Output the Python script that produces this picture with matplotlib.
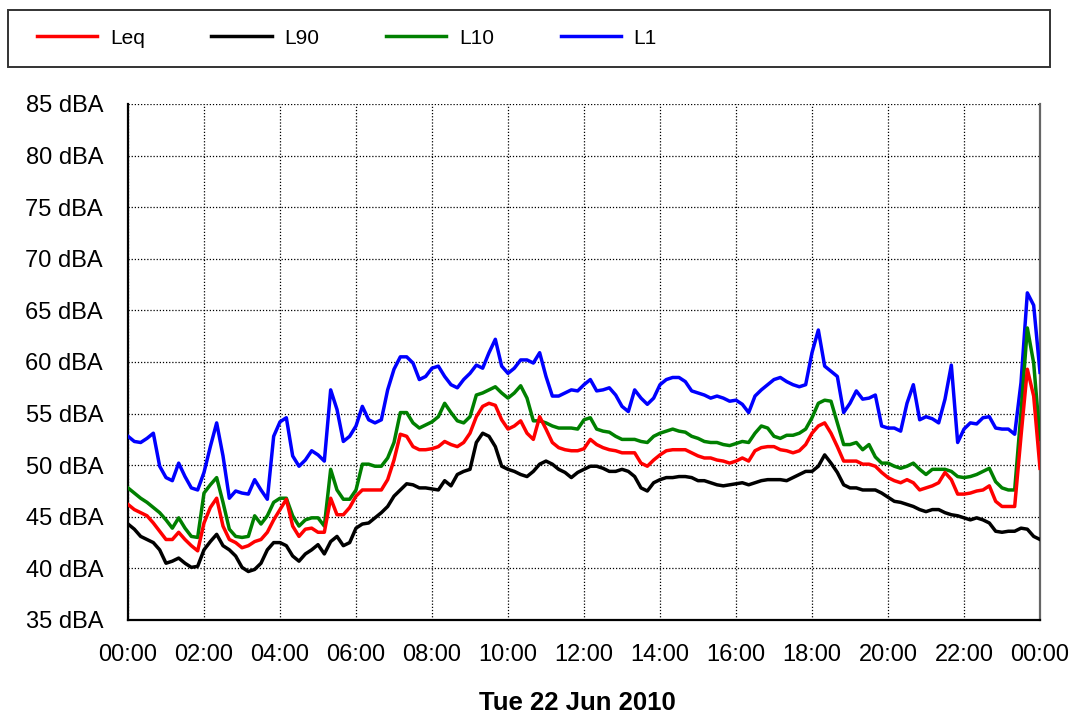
import numpy as np
import matplotlib
matplotlib.use("Agg")
import matplotlib.pyplot as plt
from matplotlib.patches import Rectangle

plt.rcParams['font.family'] = ['Liberation Sans', 'DejaVu Sans']

# 10-minute noise levels (dBA) for Tue 22 Jun 2010, 00:00 .. 24:00
step_minutes = 10

l1 = [52.8, 52.3, 52.2, 52.6, 53.1, 49.9, 48.8, 48.5, 50.2, 48.9, 47.8, 47.6, 49.3, 51.8, 54.1, 50.9, 46.8, 47.5, 47.3, 47.2, 48.6, 47.6, 46.7, 52.8, 54.2,
      54.6, 50.9, 49.9, 50.5, 51.4, 51.0, 50.4, 57.3, 55.4, 52.3, 52.8, 53.8, 55.7, 54.4, 54.1, 54.4, 57.3, 59.3, 60.5, 60.5, 59.9, 58.3, 58.6, 59.4,
      59.6, 58.6, 57.8, 57.5, 58.3, 58.9, 59.7, 59.4, 60.9, 62.2, 59.6, 58.9, 59.4, 60.2, 60.2, 59.9, 60.9, 58.6, 56.7, 56.7, 57.0, 57.3, 57.2, 57.8,
      58.3, 57.2, 57.3, 57.5, 56.8, 55.7, 55.2, 57.3, 56.5, 55.9, 56.5, 57.8, 58.3, 58.5, 58.5, 58.1, 57.2, 57.0, 56.8, 56.5, 56.7, 56.5, 56.2, 56.3,
      55.9, 55.1, 56.7, 57.3, 57.8, 58.3, 58.5, 58.1, 57.8, 57.6, 57.8, 60.9, 63.1, 59.6, 59.1, 58.6, 55.1, 56.0, 57.2, 56.4, 56.5, 56.8, 53.8, 53.6,
      53.6, 53.3, 56.0, 57.8, 54.4, 54.7, 54.5, 54.1, 56.4, 59.7, 52.2, 53.5, 54.1, 54.0, 54.6, 54.7, 53.6, 53.5, 53.5, 53.0, 58.0, 66.7, 65.5, 59.0]

l10 = [47.8, 47.3, 46.8, 46.4, 45.9, 45.4, 44.7, 43.9, 44.9, 43.9, 43.1, 43.0, 47.3, 48.1, 48.8, 46.4, 43.8, 43.1, 43.0, 43.1, 45.1, 44.3, 45.1, 46.4, 46.8,
       46.8, 45.1, 44.1, 44.7, 44.9, 44.9, 44.1, 49.6, 47.6, 46.7, 46.7, 47.6, 50.1, 50.1, 49.9, 49.9, 50.7, 52.2, 55.1, 55.1, 54.1, 53.6, 53.9, 54.2,
       54.7, 56.0, 55.1, 54.3, 54.1, 54.7, 56.8, 57.0, 57.3, 57.6, 57.0, 56.5, 57.0, 57.7, 56.5, 54.3, 54.3, 54.1, 53.8, 53.6, 53.6, 53.6, 53.5, 54.4,
       54.6, 53.5, 53.3, 53.2, 52.8, 52.5, 52.5, 52.5, 52.3, 52.2, 52.8, 53.1, 53.3, 53.5, 53.3, 53.2, 52.8, 52.6, 52.3, 52.2, 52.2, 52.0, 51.9, 52.1,
       52.3, 52.2, 53.1, 53.8, 53.6, 52.8, 52.6, 52.9, 52.9, 53.1, 53.5, 54.6, 56.0, 56.3, 56.2, 54.1, 52.0, 52.0, 52.2, 51.5, 52.0, 50.8, 50.2, 50.2,
       49.9, 49.7, 49.9, 50.2, 49.6, 49.1, 49.6, 49.6, 49.6, 49.4, 48.9, 48.8, 48.9, 49.1, 49.4, 49.7, 48.4, 47.8, 47.6, 47.6, 55.1, 63.3, 59.9, 52.5]

leq = [46.2, 45.7, 45.4, 45.1, 44.4, 43.6, 42.8, 42.8, 43.5, 42.8, 42.2, 41.7, 44.4, 45.9, 46.8, 44.1, 42.8, 42.5, 42.0, 42.2, 42.6, 42.8, 43.5, 44.7, 45.7,
       46.7, 44.1, 43.1, 43.8, 43.9, 43.5, 43.5, 46.8, 45.2, 45.2, 45.9, 47.0, 47.6, 47.6, 47.6, 47.6, 48.6, 50.5, 53.0, 52.8, 51.8, 51.5, 51.5, 51.6,
       51.8, 52.3, 52.0, 51.8, 52.2, 53.1, 54.7, 55.7, 56.0, 55.8, 54.4, 53.5, 53.8, 54.3, 53.1, 52.5, 54.7, 53.5, 52.2, 51.7, 51.5, 51.4, 51.4, 51.6,
       52.5, 52.0, 51.7, 51.5, 51.4, 51.2, 51.2, 51.2, 50.2, 49.9, 50.5, 51.0, 51.4, 51.5, 51.5, 51.5, 51.2, 50.9, 50.7, 50.7, 50.5, 50.4, 50.2, 50.4,
       50.7, 50.4, 51.4, 51.7, 51.8, 51.8, 51.5, 51.4, 51.2, 51.4, 52.0, 53.1, 53.8, 54.1, 53.1, 51.8, 50.4, 50.4, 50.4, 50.1, 50.1, 49.9, 49.3, 48.8,
       48.5, 48.3, 48.6, 48.3, 47.6, 47.8, 48.0, 48.3, 49.3, 48.6, 47.2, 47.2, 47.3, 47.5, 47.6, 48.0, 46.5, 46.0, 46.0, 46.0, 52.8, 59.3, 56.7, 49.7]

l90 = [44.3, 43.8, 43.1, 42.8, 42.5, 41.8, 40.5, 40.7, 41.0, 40.5, 40.1, 40.2, 41.8, 42.6, 43.3, 42.2, 41.8, 41.2, 40.1, 39.7, 39.9, 40.5, 41.8, 42.5, 42.5,
       42.2, 41.2, 40.7, 41.4, 41.8, 42.3, 41.4, 42.6, 43.1, 42.2, 42.5, 43.9, 44.3, 44.4, 44.9, 45.4, 46.0, 47.0, 47.6, 48.2, 48.1, 47.8, 47.8, 47.7,
       47.6, 48.5, 48.0, 49.1, 49.4, 49.6, 52.2, 53.1, 52.8, 51.8, 49.9, 49.6, 49.4, 49.1, 48.9, 49.4, 50.1, 50.4, 50.1, 49.6, 49.3, 48.8, 49.3, 49.6,
       49.9, 49.9, 49.7, 49.4, 49.4, 49.6, 49.4, 48.9, 47.8, 47.5, 48.3, 48.6, 48.8, 48.8, 48.9, 48.9, 48.8, 48.5, 48.5, 48.3, 48.1, 48.0, 48.1, 48.2,
       48.3, 48.1, 48.3, 48.5, 48.6, 48.6, 48.6, 48.5, 48.8, 49.1, 49.4, 49.4, 49.9, 51.0, 50.2, 49.3, 48.1, 47.8, 47.8, 47.6, 47.6, 47.6, 47.3, 46.9,
       46.5, 46.4, 46.2, 46.0, 45.7, 45.5, 45.7, 45.7, 45.4, 45.2, 45.1, 44.9, 44.7, 44.9, 44.7, 44.4, 43.6, 43.5, 43.6, 43.6, 43.9, 43.8, 43.1, 42.8]

x_ticks = list(range(0, 25, 2))
x_tick_labels = ["00:00", "02:00", "04:00", "06:00", "08:00", "10:00", "12:00",
                 "14:00", "16:00", "18:00", "20:00", "22:00", "00:00"]
y_ticks = [35, 40, 45, 50, 55, 60, 65, 70, 75, 80, 85]
y_tick_labels = [f"{v} dBA" for v in y_ticks]
date_label = "Tue 22 Jun 2010"

hours = np.arange(len(leq)) * step_minutes / 60.0

W, H = 1077, 718
fig = plt.figure(figsize=(W / 100, H / 100), dpi=100)
ax = fig.add_axes([128 / W, 1 - 620 / H, (1040 - 128) / W, (620 - 104) / H])

lw = 2.5
h_l1, = ax.plot(hours, l1, color="#0000ff", lw=lw, label="L1", zorder=3)
h_l10, = ax.plot(hours, l10, color="#008000", lw=lw, label="L10", zorder=4)
h_l90, = ax.plot(hours, l90, color="#000000", lw=lw, label="L90", zorder=5)
h_leq, = ax.plot(hours, leq, color="#ff0000", lw=lw, label="Leq", zorder=6)

ax.set_xlim(0, 24)
ax.set_ylim(35, 85)
ax.set_xticks(x_ticks)
ax.set_xticklabels(x_tick_labels)
ax.set_yticks(y_ticks)
ax.set_yticklabels(y_tick_labels)
ax.tick_params(axis="both", length=0, labelsize=17, colors="black")
ax.tick_params(axis="x", pad=17)
ax.tick_params(axis="y", pad=18)

ax.grid(True, color="black", linestyle=(0, (1, 1.5)), linewidth=0.9)
ax.set_axisbelow(True)
ax.spines["top"].set_visible(False)
for side in ("left", "bottom"):
    ax.spines[side].set_linewidth(1.6)
    ax.spines[side].set_color("black")
ax.spines["right"].set_linewidth(1.6)
ax.spines["right"].set_color("#666666")

ax.set_xlabel(date_label, fontsize=18.5, fontweight="bold", labelpad=18)
ax.xaxis.label.set_x((577 - 128) / (1040 - 128))

# Legend strip across the top of the figure
fig.add_artist(Rectangle((8 / W, 1 - 67 / H), (1050 - 8) / W, 57 / H,
                         transform=fig.transFigure, fill=False,
                         edgecolor="#333333", linewidth=1.4))
fig.legend(handles=[h_leq, h_l90, h_l10, h_l1], loc="center left",
           bbox_to_anchor=(37 / W, 1 - 38 / H), ncol=4, frameon=False,
           fontsize=15, handlelength=2.9, handletextpad=0.6,
           columnspacing=3.2, borderpad=0, borderaxespad=0)

fig.savefig("out.png", dpi=100)
